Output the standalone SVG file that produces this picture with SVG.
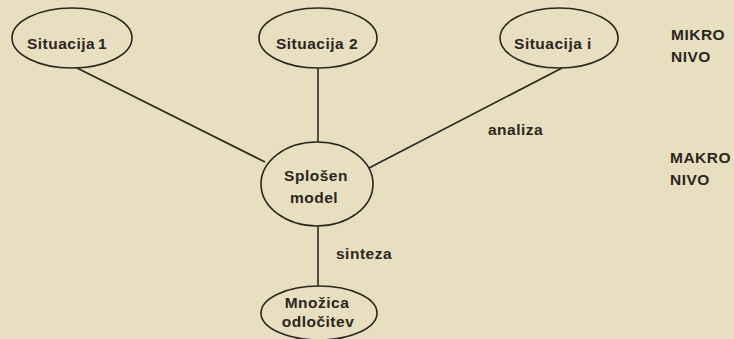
<svg xmlns="http://www.w3.org/2000/svg" width="734" height="339" viewBox="0 0 734 339">
  <style>
    .node { fill: none; stroke: #2b2620; stroke-width: 1.6; }
    .edge { stroke: #2b2620; stroke-width: 1.6; fill: none; }
    text { font-family: "Liberation Sans", Arial, sans-serif; font-size: 15.5px; font-weight: bold; fill: #2b2620; letter-spacing: 0.5px; }
    .mid { text-anchor: middle; }
  </style>
  <rect width="734" height="339" fill="#e8dec0"/>

  <g id="connectors">
    <line class="edge" x1="77" y1="68" x2="265" y2="162"/>
    <line class="edge" x1="318" y1="68" x2="318" y2="142"/>
    <line class="edge" x1="562" y1="68" x2="369" y2="168"/>
    <line class="edge" x1="318" y1="226" x2="318" y2="286"/>
  </g>

  <g id="situacija-1">
    <ellipse class="node" cx="72" cy="38" rx="60" ry="30"/>
    <text class="mid" x="67" y="49" word-spacing="-2">Situacija 1</text>
  </g>
  <g id="situacija-2">
    <ellipse class="node" cx="318" cy="38" rx="59" ry="30"/>
    <text class="mid" x="317" y="49">Situacija 2</text>
  </g>
  <g id="situacija-i">
    <ellipse class="node" cx="559" cy="38" rx="59" ry="30"/>
    <text class="mid" x="553" y="49">Situacija i</text>
  </g>
  <g id="splosen-model">
    <ellipse class="node" cx="317" cy="184" rx="56" ry="42"/>
    <text class="mid" x="316" y="181">Splošen</text>
    <text class="mid" x="314" y="203">model</text>
  </g>
  <g id="mnozica-odlocitev">
    <ellipse class="node" cx="319" cy="313" rx="58" ry="27"/>
    <text class="mid" x="317" y="308">Množica</text>
    <text class="mid" x="318" y="327">odločitev</text>
  </g>

  <g id="labels">
    <text x="488" y="135">analiza</text>
    <text x="336" y="259">sinteza</text>
    <text x="671" y="40">MIKRO</text>
    <text x="671" y="62">NIVO</text>
    <text x="670" y="163">MAKRO</text>
    <text x="670" y="185">NIVO</text>
  </g>
</svg>
